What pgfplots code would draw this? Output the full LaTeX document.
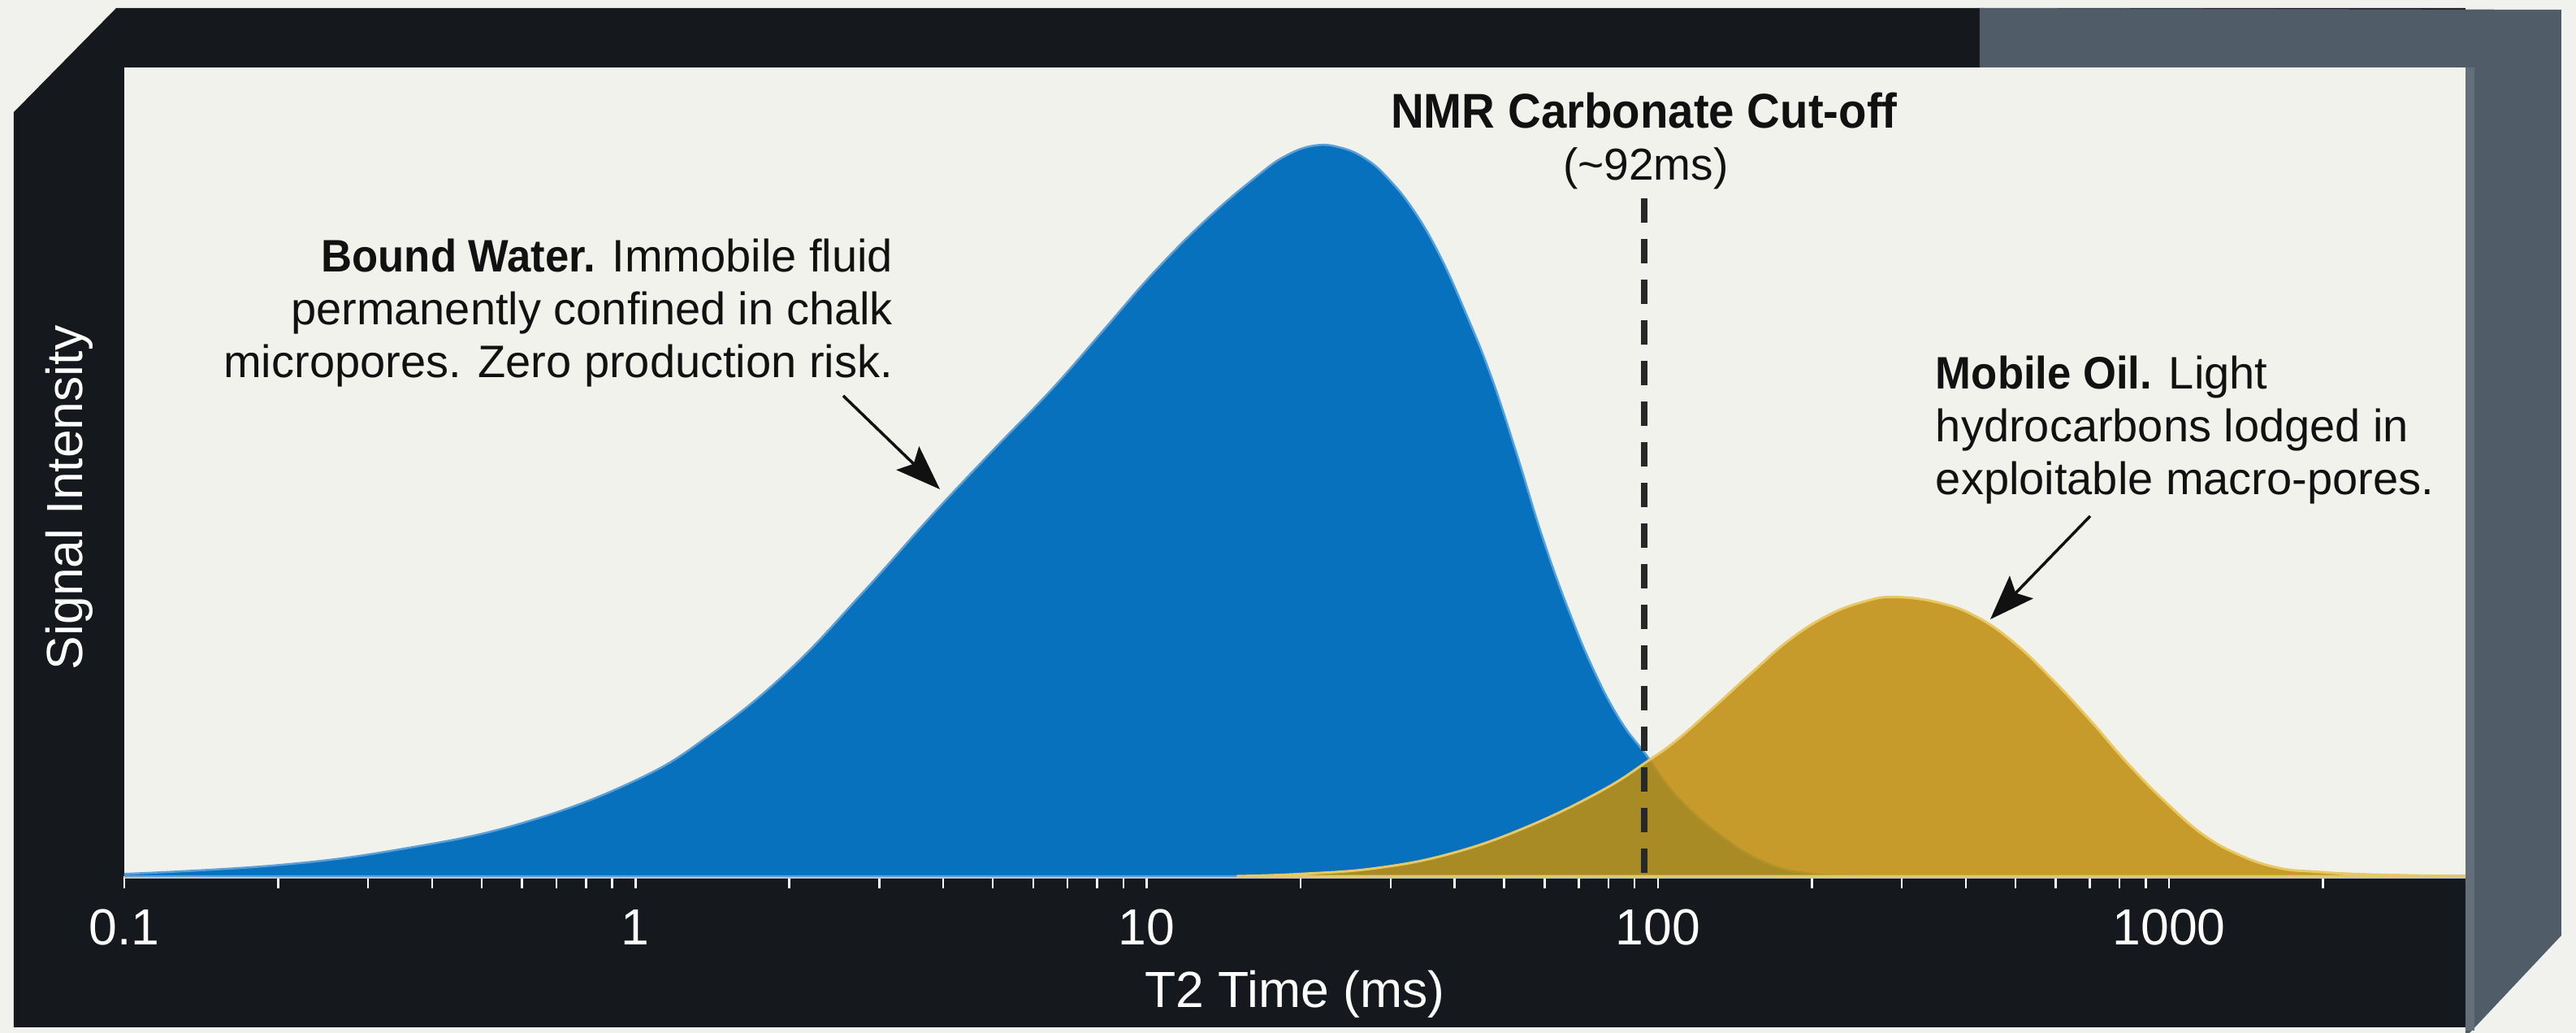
\documentclass[border=0pt]{standalone}
\usepackage{pgfplots}
\pgfplotsset{compat=1.18}
\usepackage{fontspec}
\setmainfont[BoldFeatures={FakeStretch=0.94}]{Liberation Sans}
\usetikzlibrary{arrows.meta}
\definecolor{bgcream}{RGB}{241,241,237}
\definecolor{plotbg}{RGB}{242,242,237}
\definecolor{framedark}{RGB}{21,25,29}
\definecolor{framegrey}{RGB}{80,92,104}
\definecolor{framegreylight}{RGB}{98,110,122}
\definecolor{waterblue}{RGB}{8,113,189}
\definecolor{wateredge}{RGB}{90,160,215}
\definecolor{oilgold}{RGB}{192,143,18}
\definecolor{oiledge}{RGB}{232,200,100}
\definecolor{cutdash}{RGB}{40,40,40}
\definecolor{axisline}{RGB}{190,194,194}
\definecolor{annot}{RGB}{17,17,17}

\begin{document}
\begin{tikzpicture}
% page background and 3D frame (pixel coordinates, y downwards)
\begin{scope}[x=0.2pt,y=-0.2pt,yshift=254.2pt]
\fill[bgcream] (0,0) rectangle (3171,1271);
\fill[framedark] (143,10) -- (3035,10) -- (3035,1264) -- (17,1264) -- (17,138) -- cycle;
\fill[framegrey] (2437,10) -- (3153,12) -- (3153,1151) -- (3040,1271) -- (3035,1271) -- (3035,83) -- (2437,83) -- cycle;
\fill[framegreylight] (3035,83) rectangle (3046,1268);
\end{scope}

\begin{semilogxaxis}[
  at={(30.6pt,38.6pt)}, anchor=south west,
  scale only axis, width=576.4pt, height=199pt,
  xmin=0.1, xmax=3800, ymin=0, ymax=1.098,
  axis background/.style={fill=plotbg},
  axis x line*=bottom, axis y line*=left,
  y axis line style={draw=none},
  x axis line style={draw=axisline, line width=1pt},
  ytick=\empty,
  xtick={0.1,1,10,100,1000},
  xticklabels={0.1,1,10,100,1000},
  minor xtick={0.2,0.3,0.4,0.5,0.6,0.7,0.8,0.9,2,3,4,5,6,7,8,9,20,30,40,50,60,70,80,90,200,300,400,500,600,700,800,900,2000},
  tick align=outside,
  major tick length=3pt, minor tick length=3pt,
  every tick/.style={white, line width=0.5pt},
  xticklabel style={text=white, font=\fontsize{12.5}{14}\selectfont, anchor=north, inner sep=0pt, yshift=-5pt},
  xlabel={T2 Time (ms)},
  xlabel style={at={(axis description cs:0.5,-0.1618)}, anchor=base, text=white, font=\fontsize{12.5}{14}\selectfont},
  ylabel={Signal Intensity},
  ylabel style={at={(axis description cs:-0.0236,0.468)}, anchor=center, text=white, font=\fontsize{12.5}{14}\selectfont},
  clip=true,
]
% Bound water distribution
\addplot[fill=waterblue, draw=wateredge, line width=0.5pt, smooth, tension=0.7] coordinates {
(0.1,0.003) (0.2,0.015) (0.35,0.037) (0.6,0.072) (1.0,0.130) (1.4,0.192)
(2.0,0.280) (2.8,0.387) (3.8,0.490) (5.0,0.578) (6.5,0.660) (8.2,0.740)
(10.3,0.819) (13.1,0.892) (16.4,0.950) (18.7,0.978) (21.3,0.992) (24,0.989)
(26.8,0.974) (29.6,0.948) (33.2,0.905) (37.3,0.845) (42,0.766) (47.1,0.680)
(52.9,0.574) (59.4,0.461) (66.8,0.362) (75.2,0.277) (84.5,0.211) (95,0.164)
(109,0.108) (134,0.053) (164,0.017) (200,0.003) (250,0.0)
} \closedcycle;
% Mobile oil distribution
\addplot[fill=oilgold, fill opacity=0.88, draw=oiledge, line width=0.6pt, smooth, tension=0.7] coordinates {
(15,0.0) (20,0.003) (28.2,0.011) (39.5,0.031) (55.5,0.067) (77.6,0.116)
(95.4,0.156) (109,0.185) (129,0.230) (153,0.277) (181,0.321) (215,0.354)
(254,0.373) (291,0.379) (356,0.371) (423,0.351) (501,0.315) (593,0.266)
(702,0.211) (832,0.152) (986,0.100) (1167,0.056) (1380,0.028) (1640,0.011)
(1940,0.006) (2300,0.003) (3000,0.001) (3800,0.0)
} \closedcycle;
% cut-off line
\addplot[cutdash, line width=1.6pt, dash pattern=on 6pt off 4pt] coordinates {(94,0.920) (94,0)};
\end{semilogxaxis}

% annotations (pixel coordinates, y downwards)
\begin{scope}[x=0.2pt,y=-0.2pt,yshift=254.2pt]
\node[anchor=base, inner sep=0pt, text=annot, font=\bfseries\fontsize{12}{14}\selectfont] at (2024,158) {NMR Carbonate Cut-off};
\node[anchor=base, inner sep=0pt, text=annot, font=\fontsize{11}{13}\selectfont] at (2026,222) {(\textasciitilde 92ms)};

\node[anchor=north east, inner sep=0pt, align=right, text=annot, font=\fontsize{11.2}{13}\selectfont] at (1100,293)
  {\textbf{Bound Water.} Immobile fluid\\permanently confined in chalk\\micropores. Zero production risk.};
\node[anchor=north west, inner sep=0pt, align=left, text=annot, font=\fontsize{11.2}{13}\selectfont] at (2382,437)
  {\textbf{Mobile Oil.} Light\\hydrocarbons lodged in\\exploitable macro-pores.};

\draw[annot, line width=0.7pt, -{Stealth[length=11pt, width=8pt, inset=2pt]}] (1038,487) -- (1157,602);
\draw[annot, line width=0.7pt, -{Stealth[length=11pt, width=8pt, inset=2pt]}] (2573,635) -- (2450,762);
\end{scope}

\pgfresetboundingbox
\path[use as bounding box] (0pt,0pt) rectangle (634.2pt,254.2pt);
\end{tikzpicture}
\end{document}
